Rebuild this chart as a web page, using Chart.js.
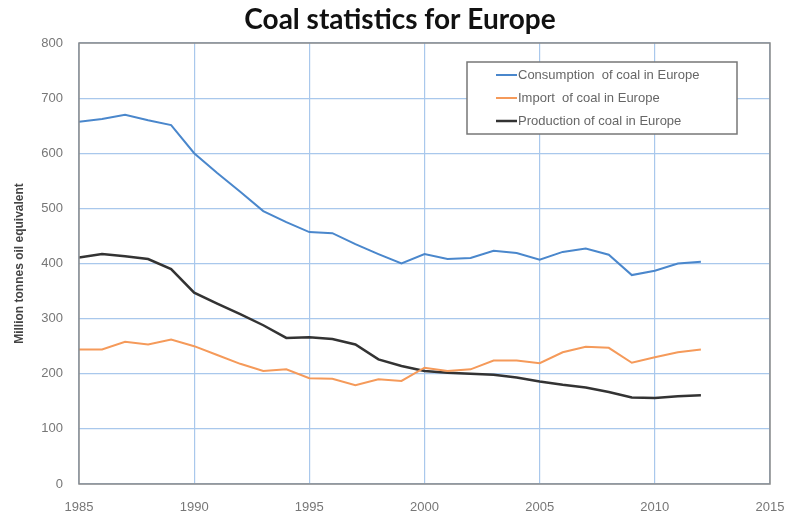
<!DOCTYPE html>
<html>
<head>
<meta charset="utf-8">
<script src="https://cdn.jsdelivr.net/npm/chart.js@4/dist/chart.umd.min.js"></script>
<style>
  html, body { margin: 0; padding: 0; background: #fff; }
  #wrap { width: 793px; height: 522px; }
</style>
</head>
<body>
<div id="wrap"><canvas id="c" width="793" height="522"></canvas></div>
<script>
// years and series (Mtoe)
const years = [1985,1986,1987,1988,1989,1990,1991,1992,1993,1994,1995,1996,1997,1998,1999,
               2000,2001,2002,2003,2004,2005,2006,2007,2008,2009,2010,2011,2012];
const consumption = [657,662,670,660,651,600,564,530,495,475,457,455,435,417,400,
                     417,408,410,423,419,407,421,427,416,379,387,400,403];
const imports = [244,244,258,253,262,250,234,218,205,208,192,191,179,190,187,
                 211,205,208,224,224,219,239,249,247,220,230,239,244];
const production = [411,417,413,408,390,347,327,308,288,265,266,263,253,226,214,
                    205,202,200,198,193,186,180,175,167,157,156,159,161];
const xTicks = [1985,1990,1995,2000,2005,2010,2015];
const yTicks = [0,100,200,300,400,500,600,700,800];

const pts = arr => arr.map((v, i) => ({x: years[i], y: v}));

// legend box drawn inside the plot, like the original
const boxLegend = {
  id: 'boxLegend',
  afterDraw(chart) {
    const ctx = chart.ctx;
    const x0 = 467, y0 = 62, w = 270, h = 72;
    ctx.save();
    ctx.fillStyle = '#fff';
    ctx.fillRect(x0, y0, w, h);
    ctx.strokeStyle = '#777';
    ctx.lineWidth = 1.5;
    ctx.strokeRect(x0, y0, w, h);
    ctx.font = '13px "Liberation Sans Narrow", "Liberation Sans", sans-serif';
    ctx.textBaseline = 'middle';
    chart.data.datasets.forEach((ds, i) => {
      const y = y0 + 13 + i * 23;
      ctx.strokeStyle = ds.borderColor;
      ctx.lineWidth = ds.borderWidth;
      ctx.beginPath();
      ctx.moveTo(496, y);
      ctx.lineTo(517, y);
      ctx.stroke();
      ctx.fillStyle = '#666';
      ctx.fillText(ds.label, 518, y);
    });
    ctx.restore();
  }
};

const plotFrame = {
  id: 'plotFrame',
  afterDatasetsDraw(chart) {
    const a = chart.chartArea, ctx = chart.ctx;
    ctx.save();
    ctx.strokeStyle = '#8a8a8a';
    ctx.lineWidth = 1.5;
    ctx.strokeRect(a.left, a.top, a.right - a.left, a.bottom - a.top);
    ctx.restore();
  }
};

const headline = {
  id: 'headline',
  afterDraw(chart) {
    const ctx = chart.ctx;
    ctx.save();
    ctx.font = 'bold 28px Lato, "Open Sans", sans-serif';
    ctx.fillStyle = '#111';
    ctx.textAlign = 'center';
    ctx.textBaseline = 'middle';
    ctx.fillText('Coal statistics for Europe', 400, 20);
    ctx.restore();
  }
};

new Chart(document.getElementById('c'), {
  type: 'line',
  data: {
    datasets: [
      { label: 'Consumption  of coal in Europe', data: pts(consumption),
        borderColor: '#4a87cc', borderWidth: 2, pointRadius: 0, tension: 0 },
      { label: 'Import  of coal in Europe', data: pts(imports),
        borderColor: '#f59a5a', borderWidth: 2, pointRadius: 0, tension: 0 },
      { label: 'Production of coal in Europe', data: pts(production),
        borderColor: '#333333', borderWidth: 2.5, pointRadius: 0, tension: 0 }
    ]
  },
  options: {
    responsive: false,
    animation: false,
    layout: { padding: { left: 0, right: 23, top: 43, bottom: 0 } },
    plugins: { legend: { display: false }, title: { display: false }, tooltip: { enabled: false } },
    scales: {
      x: {
        type: 'linear', min: 1985, max: 2015,
        afterBuildTicks: s => { s.ticks = xTicks.map(v => ({value: v})); },
        afterFit: s => { s.height = 38; s.paddingLeft = 0; s.paddingRight = 0; },
        grid: { color: '#a9c8ec', lineWidth: 1.2, drawTicks: false },
        border: { display: false },
        ticks: { color: '#777', font: { size: 13, family: '"Liberation Sans Narrow", "Liberation Sans", sans-serif' },
                 padding: 16, callback: v => String(v), maxRotation: 0 }
      },
      y: {
        min: 0, max: 800,
        afterBuildTicks: s => { s.ticks = yTicks.map(v => ({value: v})); },
        afterFit: s => { s.width = 79; },
        grid: { color: '#a9c8ec', lineWidth: 1.2, drawTicks: false },
        border: { display: false },
        ticks: { color: '#777', font: { size: 13, family: '"Liberation Sans Narrow", "Liberation Sans", sans-serif' },
                 padding: 16 },
        title: { display: true, text: 'Million tonnes oil equivalent', color: '#444',
                 font: { size: 12, weight: 'bold', family: '"Liberation Sans", sans-serif' }, padding: { top: 12, bottom: 0 } }
      }
    }
  },
  plugins: [plotFrame, boxLegend, headline]
});
</script>
</body>
</html>
